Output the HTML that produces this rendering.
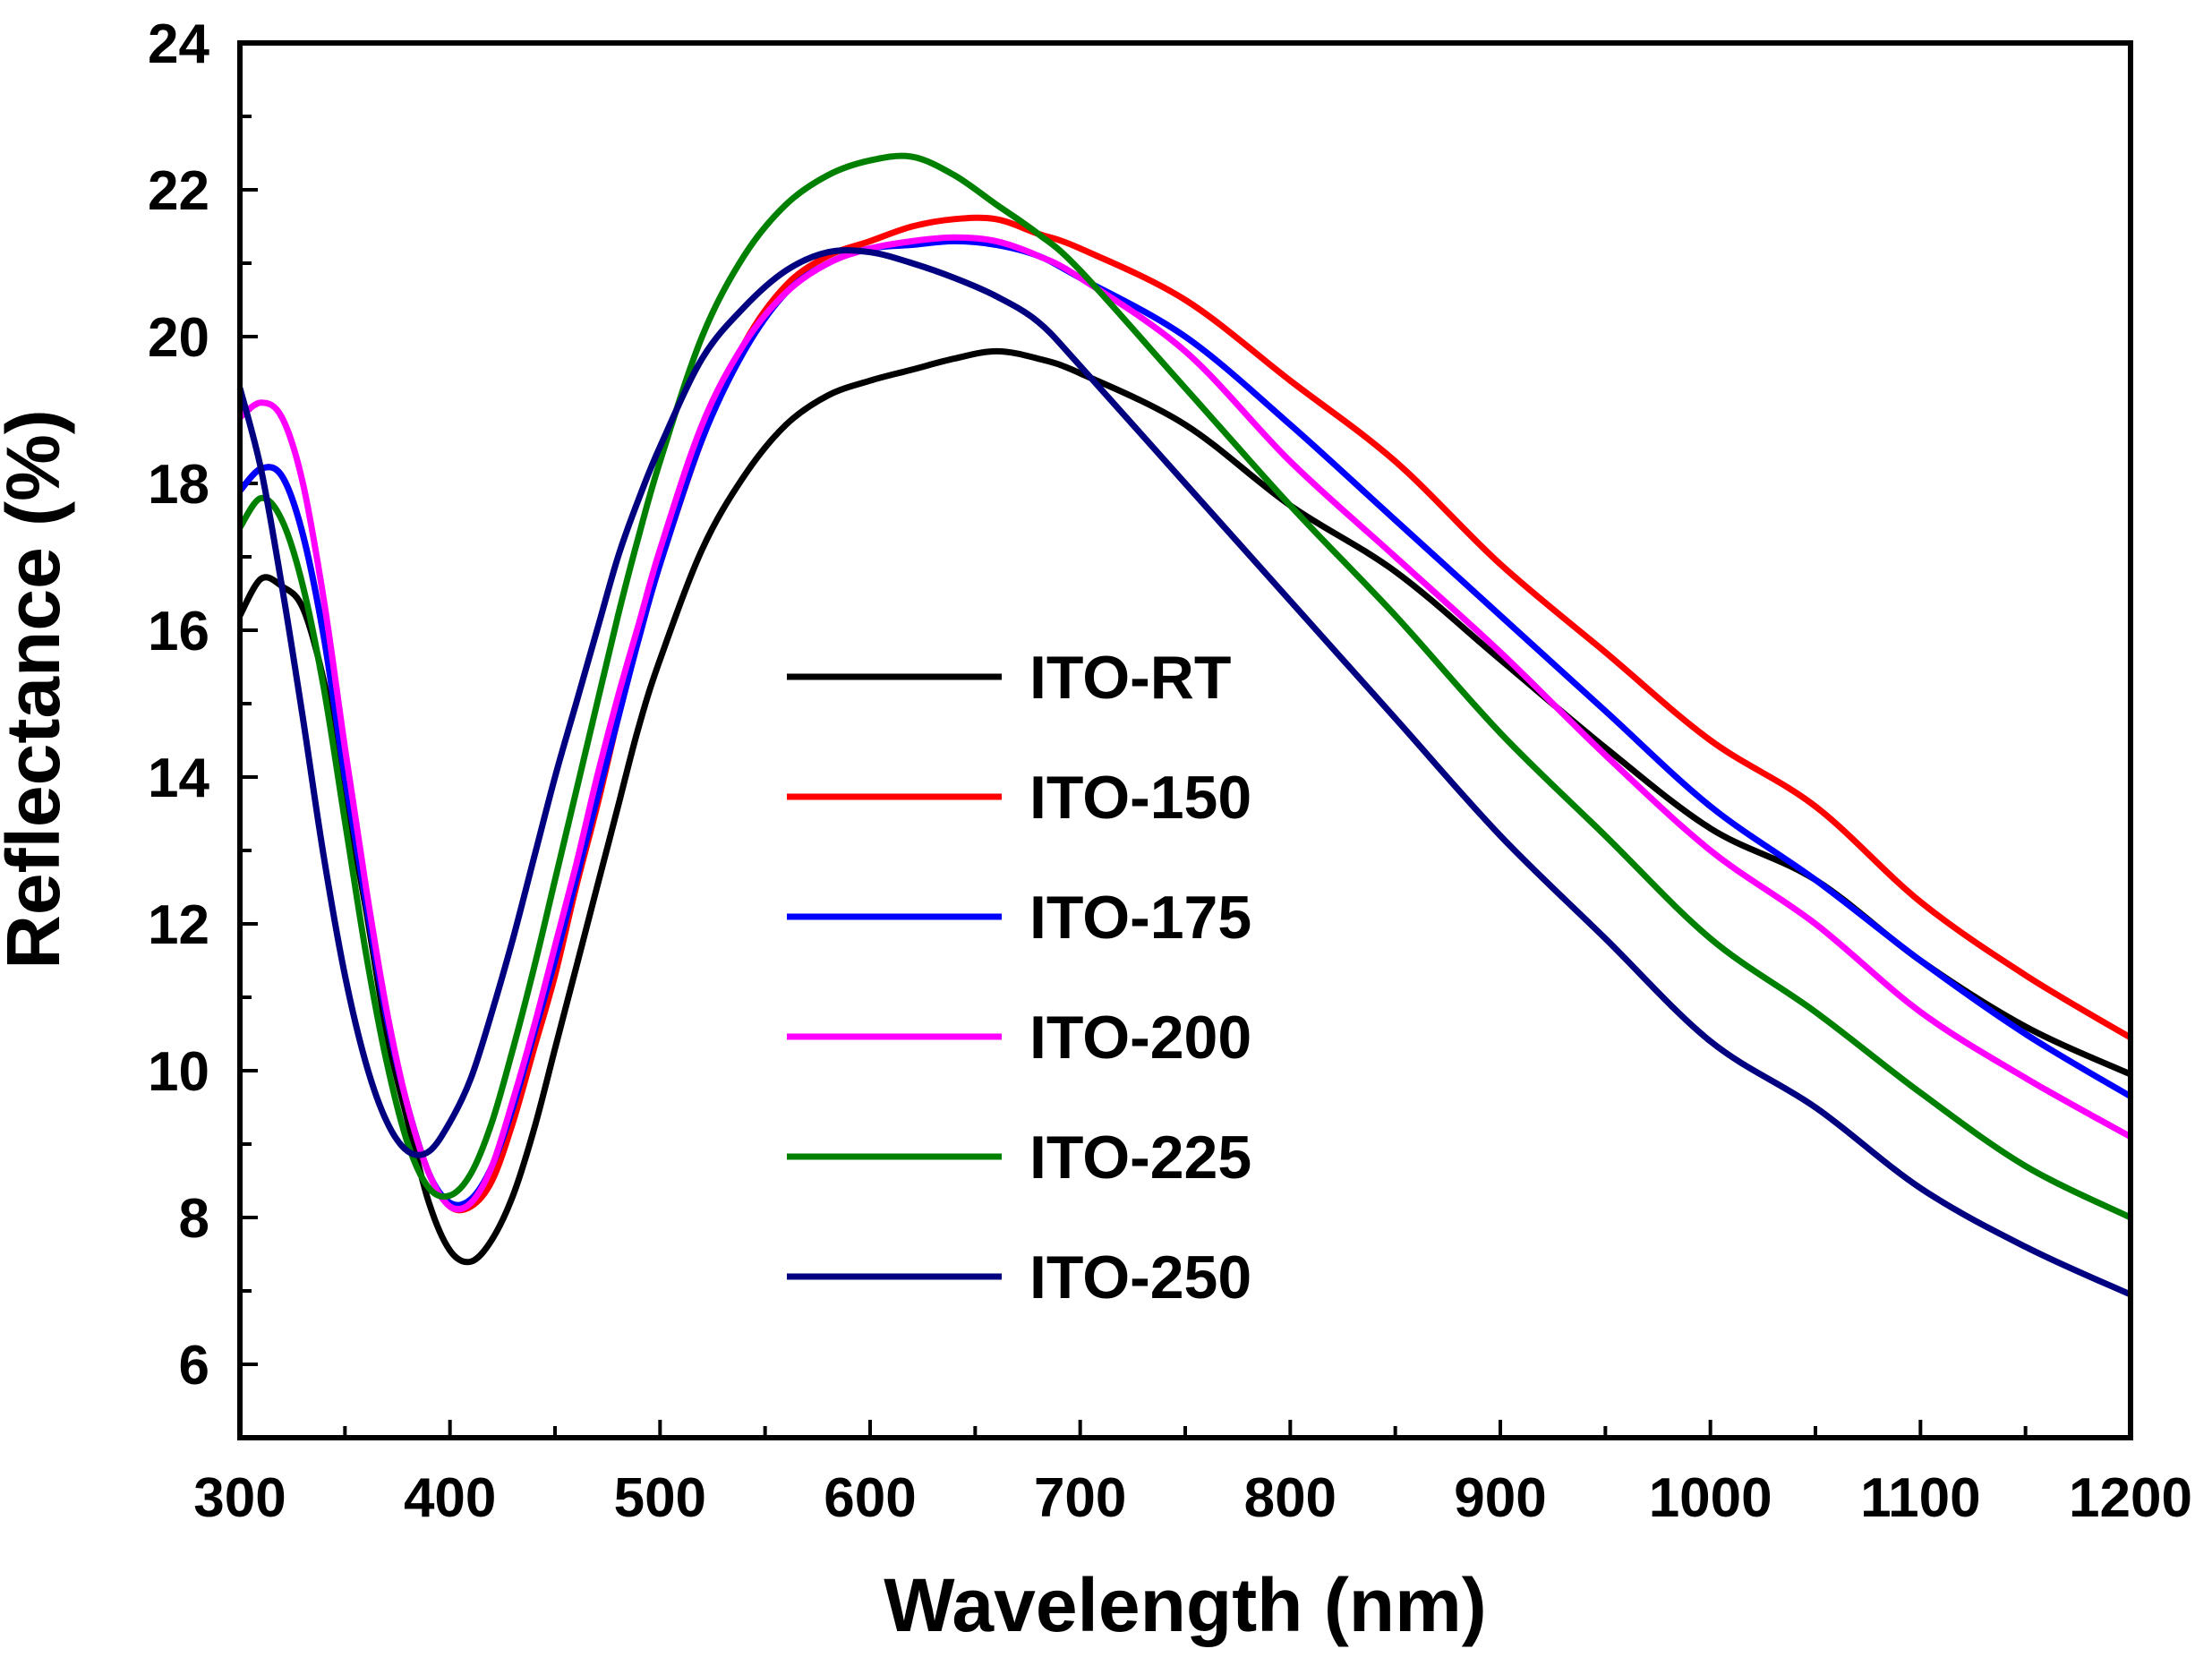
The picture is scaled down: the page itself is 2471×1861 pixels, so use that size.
<!DOCTYPE html>
<html><head><meta charset="utf-8"><style>
html,body{margin:0;padding:0;background:#fff;}
svg{display:block;font-family:"Liberation Sans",Arial,sans-serif;font-weight:bold;}
</style></head><body>
<svg id="chart" width="2471" height="1861" viewBox="0 0 2471 1861" xmlns="http://www.w3.org/2000/svg">
<g id="ticks"></g>
<g id="series"></g>
<rect x="268" y="48" width="2112" height="1558" fill="none" stroke="#000" stroke-width="6"/>
<g id="legend"></g>
<text x="1324" y="1822" font-size="84" text-anchor="middle">Wavelength (nm)</text>
<text transform="translate(66,770) rotate(-90)" font-size="84" text-anchor="middle">Reflectance (%)</text>
</svg>
<script>
const wavelengths=[300,310,320,330,340,350,360,370,380,390,400,410,420,430,440,450,460,470,480,490,500,520,540,560,580,600,620,640,660,680,700,750,800,850,900,950,1000,1050,1100,1150,1200];
const seriesNames=["ITO-RT","ITO-150","ITO-175","ITO-200","ITO-225","ITO-250"];
const seriesColors=["#000000","#ff0000","#0000ff","#ff00ff","#008000","#000080"];
const rtValues=[16.2,16.7,16.6,16.3,15.3,13.8,12.2,10.5,9.3,8.2,7.55,7.4,7.7,8.3,9.2,10.3,11.4,12.5,13.6,14.7,15.6,17.1,18.1,18.8,19.2,19.4,19.55,19.7,19.8,19.7,19.5,18.8,17.7,16.8,15.6,14.4,13.3,12.6,11.5,10.6,9.95];
const ito150Values=[17.9,18.2,18.1,17.3,15.9,14.0,12.3,10.7,9.5,8.6,8.15,8.15,8.5,9.3,10.3,11.3,12.5,13.6,14.8,15.9,16.9,18.6,19.9,20.7,21.1,21.3,21.5,21.6,21.6,21.4,21.2,20.5,19.4,18.3,16.9,15.7,14.5,13.6,12.3,11.3,10.45];
const ito175Values=[17.9,18.2,18.1,17.3,15.9,14.0,12.3,10.7,9.5,8.6,8.2,8.25,8.7,9.5,10.5,11.5,12.6,13.7,14.8,15.9,16.9,18.6,19.8,20.6,21.0,21.2,21.25,21.3,21.25,21.1,20.8,20.0,18.8,17.5,16.2,14.9,13.6,12.6,11.5,10.5,9.65];
const ito200Values=[18.9,19.1,18.9,18.0,16.4,14.4,12.5,10.8,9.5,8.6,8.15,8.2,8.7,9.6,10.6,11.7,12.8,14.0,15.1,16.1,17.1,18.8,19.9,20.6,21.0,21.2,21.3,21.35,21.3,21.1,20.8,19.8,18.3,17.0,15.7,14.3,13.0,12.0,10.8,9.9,9.1];
const ito225Values=[17.4,17.8,17.5,16.6,15.2,13.4,11.6,10.1,9.0,8.4,8.3,8.6,9.3,10.3,11.4,12.6,13.8,15.0,16.2,17.3,18.3,20.0,21.1,21.8,22.2,22.4,22.45,22.2,21.8,21.4,20.9,19.3,17.7,16.2,14.6,13.2,11.8,10.8,9.7,8.7,8.0];
const ito250Values=[19.3,18.2,16.6,14.8,12.9,11.3,10.1,9.3,8.9,8.9,9.3,9.9,10.8,11.8,12.9,14.0,15.0,16.0,17.0,17.8,18.5,19.7,20.4,20.9,21.15,21.15,21.0,20.8,20.55,20.2,19.6,18.0,16.4,14.8,13.2,11.8,10.4,9.5,8.4,7.6,6.95];
const xTickLabels=[300,400,500,600,700,800,900,1000,1100,1200];
const yTickLabels=[6,8,10,12,14,16,18,20,22,24];
const allValues=[rtValues,ito150Values,ito175Values,ito200Values,ito225Values,ito250Values];

const NS="http://www.w3.org/2000/svg";
const X0=268,X1=2380,Y0=1606,Y1=48,XMIN=300,XMAX=1200,YMIN=5,YMAX=24;
function xs(v){return X0+(v-XMIN)/(XMAX-XMIN)*(X1-X0);}
function ys(v){return Y0-(v-YMIN)/(YMAX-YMIN)*(Y0-Y1);}
function mk(tag,attrs,parent){const e=document.createElementNS(NS,tag);for(const k in attrs)e.setAttribute(k,attrs[k]);parent.appendChild(e);return e;}

const tg=document.getElementById('ticks');
for(let w=350;w<XMAX;w+=100){
  const t=mk('line',{x1:xs(w),x2:xs(w),y1:Y0,y2:Y0-13,stroke:'#000','stroke-width':4},tg);
  
  
}
xTickLabels.forEach(v=>{
  const t=mk('line',{x1:xs(v),x2:xs(v),y1:Y0,y2:Y0-20,stroke:'#000','stroke-width':4},tg);
  
  
  const l=mk('text',{x:xs(v),y:1694,'font-size':62,'text-anchor':'middle'},tg);
  l.textContent=v;
  
  
});
for(let v=7;v<YMAX;v+=2){
  const t=mk('line',{x1:X0,x2:X0+13,y1:ys(v),y2:ys(v),stroke:'#000','stroke-width':4},tg);
  
  
}
yTickLabels.forEach(v=>{
  const t=mk('line',{x1:X0,x2:X0+20,y1:ys(v),y2:ys(v),stroke:'#000','stroke-width':4},tg);
  
  
  const l=mk('text',{x:234,y:ys(v)+22,'font-size':62,'text-anchor':'end'},tg);
  l.textContent=v;
  
  
});

function smoothPath(pts){
  let d='M'+pts[0][0].toFixed(1)+','+pts[0][1].toFixed(1);
  for(let i=0;i<pts.length-1;i++){
    const p0=pts[Math.max(0,i-1)],p1=pts[i],p2=pts[i+1],p3=pts[Math.min(pts.length-1,i+2)];
    const c1=[p1[0]+(p2[0]-p0[0])/6,p1[1]+(p2[1]-p0[1])/6];
    const c2=[p2[0]-(p3[0]-p1[0])/6,p2[1]-(p3[1]-p1[1])/6];
    d+='C'+c1[0].toFixed(1)+','+c1[1].toFixed(1)+' '+c2[0].toFixed(1)+','+c2[1].toFixed(1)+' '+p2[0].toFixed(1)+','+p2[1].toFixed(1);
  }
  return d;
}
const sg=document.getElementById('series');
allValues.forEach((vals,i)=>{
  const pts=wavelengths.map((w,j)=>[xs(w),ys(vals[j])]);
  const p=mk('path',{d:smoothPath(pts),fill:'none',stroke:seriesColors[i],'stroke-width':7,'stroke-linejoin':'round'},sg);
  
  
});
const lg=document.getElementById('legend');
seriesNames.forEach((n,i)=>{
  const y=756+i*134;
  const l=mk('line',{x1:879,x2:1119,y1:y,y2:y,stroke:seriesColors[i],'stroke-width':7},lg);
  
  
  const t=mk('text',{x:1150,y:y+24,'font-size':68},lg);
  t.textContent=n;
  
  
});
</script>
</body></html>
